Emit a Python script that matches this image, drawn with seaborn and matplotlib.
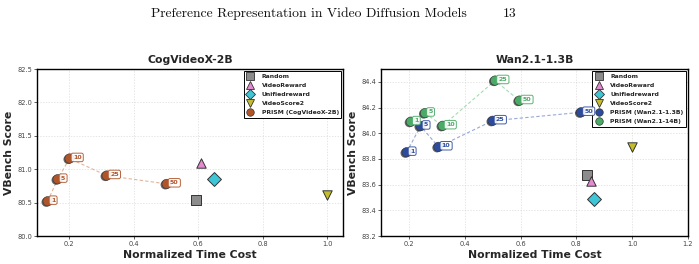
#!/usr/bin/env python3

import numpy as np
import pandas as pd
import seaborn as sns
import matplotlib.pyplot as plt
import matplotlib.patheffects as pe
from matplotlib.lines import Line2D

# ---- data ----
steps = [1, 5, 10, 25, 50]

cog_prism_x = [0.133, 0.164, 0.201, 0.316, 0.502]
cog_prism_y = [80.52, 80.85, 81.16, 80.905, 80.78]
cog_baseline_x = [0.593, 0.608, 0.649, 1.0]
cog_baseline_y = [80.545, 81.09, 80.85, 80.62]

wan_prism13_x = [0.192, 0.242, 0.306, 0.500, 0.817]
wan_prism13_y = [83.852, 84.056, 83.894, 84.097, 84.163]
wan_prism14_x = [0.207, 0.258, 0.321, 0.509, 0.596]
wan_prism14_y = [84.09, 84.157, 84.058, 84.41, 84.254]
wan_baseline_x = [0.839, 0.851, 0.863, 0.999]
wan_baseline_y = [83.672, 83.63, 83.487, 83.891]

baseline_names = ["Random", "VideoReward", "Unifiedreward", "VideoScore2"]
baseline_markers = ["s", "^", "D", "v"]
baseline_colors = ["#8c8c8c", "#e48ad0", "#3ec6d6", "#c4bc2e"]
baseline_sizes = [46, 46, 50, 46]

C_COG = "#b0542a"
C_WAN13 = "#2d4b9e"
C_WAN14 = "#4aaa66"

LABEL_FS = 7.8
TICK_FS = 4.8
LEG_FS = 4.4

sns.set_theme(style="whitegrid")
plt.rcParams["font.family"] = ["DejaVu Sans"]

shadow = [pe.withSimplePatchShadow(offset=(-1.0, -0.6), shadow_rgbFace="#222222", alpha=0.7)]


def draw_prism(ax, xs, ys, color, line_color, label):
    df = pd.DataFrame({"x": xs, "y": ys, "step": steps})
    sns.lineplot(data=df, x="x", y="y", sort=False, ax=ax, color=line_color,
                 linestyle=(0, (3, 2)), linewidth=0.8, alpha=0.8, zorder=2)
    sns.scatterplot(data=df, x="x", y="y", ax=ax, color=color, s=46, marker="o",
                    edgecolor="#333333", linewidth=0.4, zorder=4,
                    path_effects=shadow)
    for x, y, st in zip(xs, ys, steps):
        ax.annotate(str(st), (x, y), xytext=(2.4, 0.8),
                    textcoords="offset points", fontsize=4.5, fontweight="bold",
                    color=color, ha="left", va="center", zorder=6,
                    bbox=dict(boxstyle="round,pad=0.28", fc="white", ec=color,
                              lw=0.7, alpha=0.9))
    return Line2D([], [], linestyle="none", marker="o", markersize=5.4,
                  markerfacecolor=color, markeredgecolor="#333333",
                  markeredgewidth=0.5, label=label)


def draw_baselines(ax, xs, ys):
    handles = []
    for name, m, c, s, x, y in zip(baseline_names, baseline_markers,
                                   baseline_colors, baseline_sizes, xs, ys):
        sns.scatterplot(x=[x], y=[y], ax=ax, marker=m, color=c, s=s,
                        edgecolor="#333333", linewidth=0.7, zorder=5)
        handles.append(Line2D([], [], linestyle="none", marker=m,
                              markersize=5.4 if m != "D" else 5.2,
                              markerfacecolor=c, markeredgecolor="#333333",
                              markeredgewidth=0.6, label=name))
    return handles


def style_axes(ax, title, xlim, ylim, xticks, yticks):
    ax.set_xlim(*xlim)
    ax.set_ylim(*ylim)
    ax.set_xticks(xticks)
    ax.set_yticks(yticks)
    ax.set_xticklabels([f"{v:.1f}" for v in xticks])
    ax.set_yticklabels([f"{v:.1f}" for v in yticks])
    ax.set_title(title, fontsize=LABEL_FS, fontweight="bold", pad=4)
    ax.set_xlabel("Normalized Time Cost", fontsize=LABEL_FS, fontweight="bold", labelpad=2)
    ax.set_ylabel("VBench Score", fontsize=LABEL_FS, fontweight="bold", labelpad=2)
    ax.tick_params(axis="both", labelsize=TICK_FS, colors="#444444", length=2,
                   width=0.6, pad=1.5, left=True, bottom=True)
    ax.grid(True, linestyle=(0, (2, 2)), linewidth=0.5, color="#cccccc", alpha=0.7)
    ax.set_facecolor("white")
    for sp in ax.spines.values():
        sp.set_color("black")
        sp.set_linewidth(1.0)


def add_legend(ax, handles):
    leg = ax.legend(handles=handles, loc="upper right", fontsize=LEG_FS,
                    prop={"weight": "bold", "size": LEG_FS}, frameon=True,
                    fancybox=False, edgecolor="black", framealpha=1,
                    borderaxespad=0.35, handlelength=1.2, handletextpad=1.3,
                    labelspacing=0.62, borderpad=0.4)
    leg.get_frame().set_linewidth(0.7)


fig = plt.figure(figsize=(6.99, 2.64), dpi=100)
ax1 = fig.add_axes([0.0529, 0.106, 0.4385, 0.6326])
ax2 = fig.add_axes([0.545, 0.106, 0.4392, 0.6326])

# left: CogVideoX-2B
base_h = draw_baselines(ax1, cog_baseline_x, cog_baseline_y)
h_cog = draw_prism(ax1, cog_prism_x, cog_prism_y, C_COG, "#dba283", "PRISM (CogVideoX-2B)")
style_axes(ax1, "CogVideoX-2B", (0.1, 1.05), (80.0, 82.5),
           [0.2, 0.4, 0.6, 0.8, 1.0], [80.0, 80.5, 81.0, 81.5, 82.0, 82.5])
add_legend(ax1, base_h + [h_cog])

# right: Wan2.1-1.3B
base_h = draw_baselines(ax2, wan_baseline_x, wan_baseline_y)
h_13 = draw_prism(ax2, wan_prism13_x, wan_prism13_y, C_WAN13, "#7f93cf", "PRISM (Wan2.1-1.3B)")
h_14 = draw_prism(ax2, wan_prism14_x, wan_prism14_y, C_WAN14, "#8fd3a0", "PRISM (Wan2.1-14B)")
style_axes(ax2, "Wan2.1-1.3B", (0.1, 1.2), (83.2, 84.5),
           [0.2, 0.4, 0.6, 0.8, 1.0, 1.2], [83.2, 83.4, 83.6, 83.8, 84.0, 84.2, 84.4])
add_legend(ax2, base_h + [h_13, h_14])

# page header
fig.text(467 / 699, 1 - 14 / 264, "Preference Representation in Video Diffusion Models",
         family="cmr10", fontsize=9.8, ha="right", va="center", color="#111111")
fig.text(517 / 699, 1 - 14 / 264, "13", family="cmr10", fontsize=9.8,
         ha="right", va="center", color="#111111")

fig.savefig("out.png", dpi=100)
